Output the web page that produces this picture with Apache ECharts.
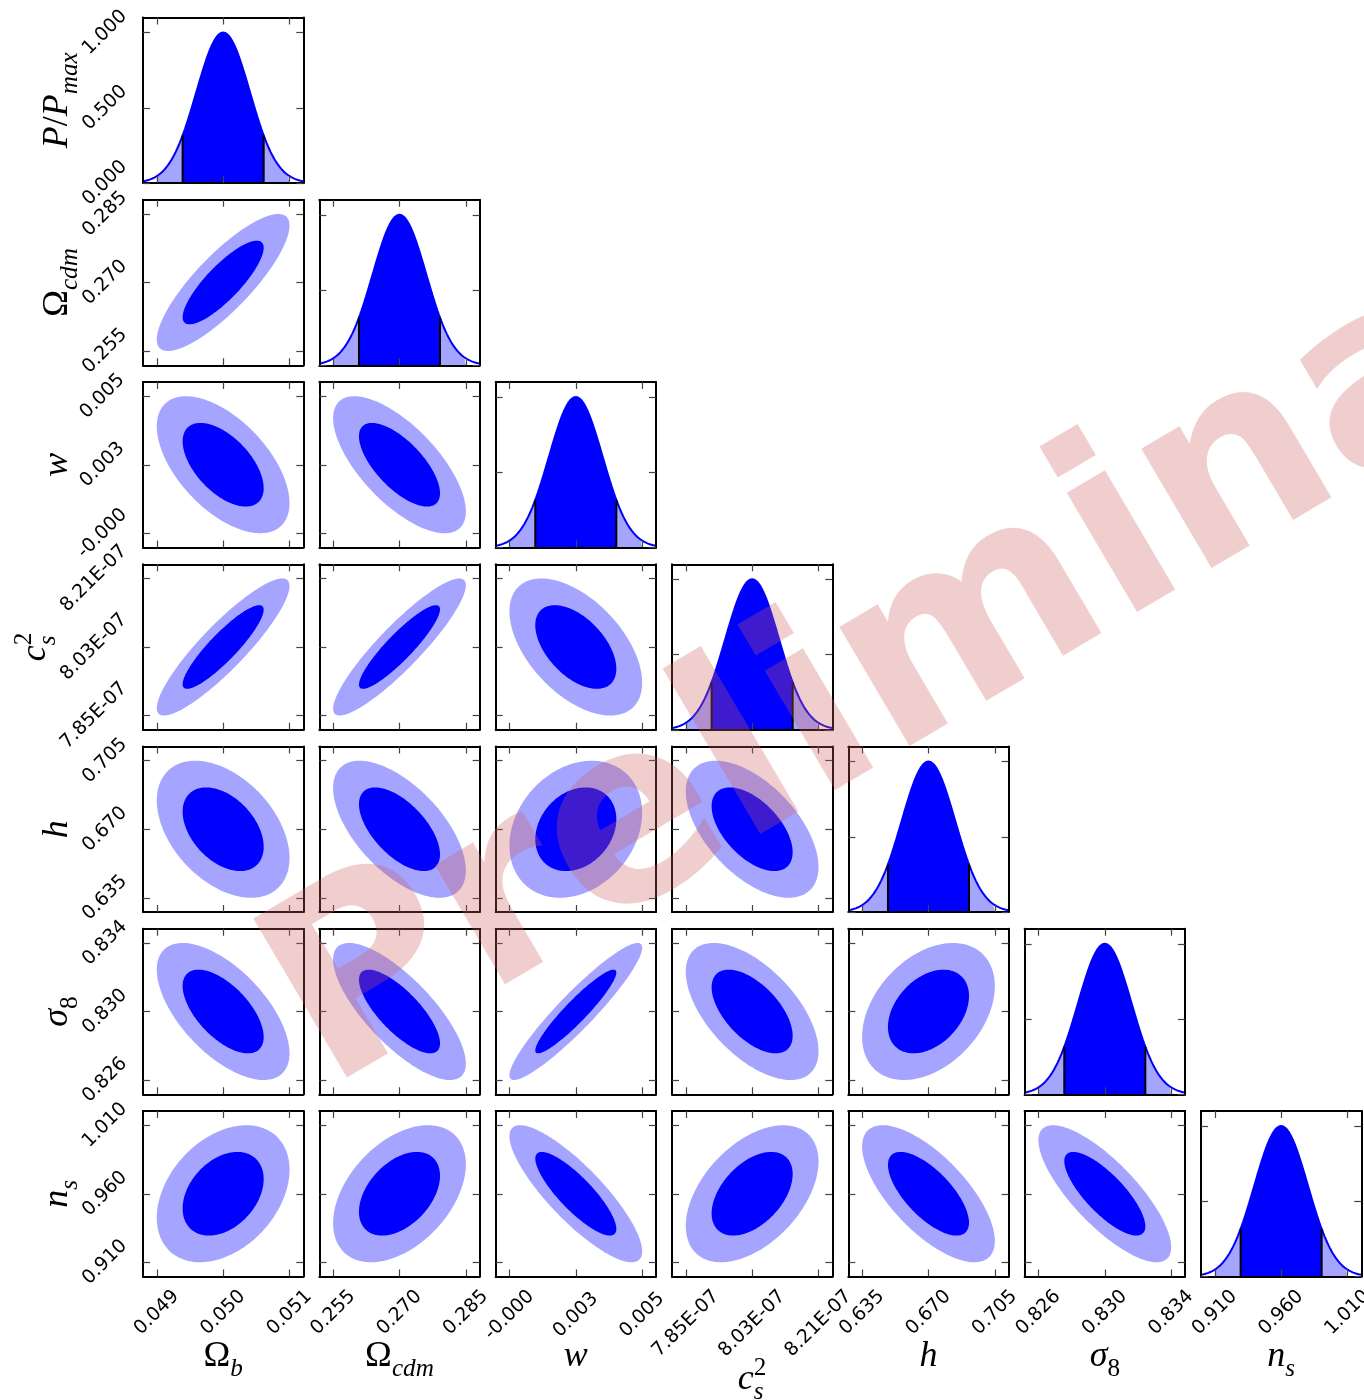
<!DOCTYPE html>
<html>
<head>
<meta charset="utf-8">
<title>Fisher forecast triangle plot</title>
<script src="https://cdn.jsdelivr.net/npm/echarts@6/dist/echarts.min.js"></script>
<style>
  html, body { margin: 0; padding: 0; background: #ffffff; }
  #chart { width: 1364px; height: 1400px; }
</style>
</head>
<body>
<div id="chart"></div>
<script>
// ---- Forecast parameters: fiducial values and marginalised 1-sigma errors ----
const paramNames = ['Omega_b', 'Omega_cdm', 'w', 'c_s^2', 'h', 'sigma_8', 'n_s'];
const fiducial = [0.0500, 0.2700, 0.0025, 8.03e-7, 0.670, 0.830, 0.960];
const sigma    = [0.000403, 0.00605, 0.00109, 7.26e-9, 0.01411, 0.001613, 0.02016];

// Correlation coefficients, lower triangle: corrRowI[j] = rho(param I, param j)
const corrRow1 = [0.83];
const corrRow2 = [-0.56, -0.68];
const corrRow3 = [0.89, 0.90, -0.52];
const corrRow4 = [-0.42, -0.60, 0.24, -0.55];
const corrRow5 = [-0.61, -0.76, 0.93, -0.58, 0.37];
const corrRow6 = [0.35, 0.43, -0.84, 0.47, -0.69, -0.78];

// Tick labels (lower contour edge, fiducial, upper contour edge)
const tickLabelsOmegaB   = ['0.049', '0.050', '0.051'];
const tickLabelsOmegaCdm = ['0.255', '0.270', '0.285'];
const tickLabelsW        = ['-0.000', '0.003', '0.005'];
const tickLabelsCs2      = ['7.85E-07', '8.03E-07', '8.21E-07'];
const tickLabelsH        = ['0.635', '0.670', '0.705'];
const tickLabelsSigma8   = ['0.826', '0.830', '0.834'];
const tickLabelsNs       = ['0.910', '0.960', '1.010'];

// Normalised 1D posterior axis
const probTicks = [0, 0.5, 1.0];
const probTickLabels = ['0.000', '0.500', '1.000'];

// Contour levels: delta chi^2 for 68.3% and 95.4% in two dimensions
const deltaChi2 = [2.30, 6.17];

const watermarkText = 'Preliminary';

// ---- Derived tables ----
const tickLabels = [tickLabelsOmegaB, tickLabelsOmegaCdm, tickLabelsW, tickLabelsCs2,
                    tickLabelsH, tickLabelsSigma8, tickLabelsNs];
const corr = [[], corrRow1, corrRow2, corrRow3, corrRow4, corrRow5, corrRow6];
const N = fiducial.length;
const R1 = Math.sqrt(deltaChi2[0]);
const R2 = Math.sqrt(deltaChi2[1]);
const SPAN = 3; // each axis covers fiducial +/- 3 sigma

// ---- Styling ----
const DARK = '#0000ff';
const LIGHT = '#a5a5ff';
const TICK_FAMILY = '"DejaVu Sans"';
const TICK_SIZE = 19;
const TITLE_FAMILY = '"Liberation Serif", "DejaVu Serif", serif';
const TITLE_SIZE = 36;

const L = { left: 143, top: 17.5, w: 160.3, h: 165.5, dx: 176.33, dy: 182.25 };

const measureCtx = document.createElement('canvas').getContext('2d');
function textWidth(text, font) {
  measureCtx.font = font;
  return measureCtx.measureText(text).width;
}
function rotatedBox(text) {
  const w = textWidth(text, TICK_SIZE + 'px ' + TICK_FAMILY);
  return (w + 0.73 * TICK_SIZE) * Math.SQRT1_2;
}
function xLabelMargin(labels) {
  return 12 + Math.max(...labels.map(rotatedBox)) / 2;
}
function yLabelMargin(labels) {
  return 14 + Math.max(...labels.map(rotatedBox)) / 2;
}

function rho(i, j) { return i > j ? corr[i][j] : corr[j][i]; }
function paramTicks(k) {
  return [fiducial[k] - R2 * sigma[k], fiducial[k], fiducial[k] + R2 * sigma[k]];
}

const axisLineStyle = { show: true, onZero: false, lineStyle: { color: '#000', width: 2 } };
const tickLineStyle = { color: '#444', width: 1.2 };

function labelStyle(show, margin) {
  return {
    show: show, rotate: 45, align: 'center', verticalAlign: 'middle', margin: margin,
    padding: [8, 0, 0, 0],
    fontFamily: TICK_FAMILY, fontSize: TICK_SIZE, color: '#000'
  };
}

function paramAxis(k, gridIndex, position, showLabels, isX) {
  const ticks = paramTicks(k);
  const labels = tickLabels[k];
  const margin = isX ? xLabelMargin(labels) : yLabelMargin(labels);
  const lab = labelStyle(showLabels, margin);
  lab.customValues = ticks;
  lab.formatter = function (v) {
    const idx = Math.round((v - fiducial[k]) / (R2 * sigma[k])) + 1;
    return labels[Math.max(0, Math.min(2, idx))];
  };
  return {
    type: 'value', gridIndex: gridIndex, position: position, z: 10,
    min: fiducial[k] - SPAN * sigma[k], max: fiducial[k] + SPAN * sigma[k],
    axisLine: axisLineStyle,
    axisTick: { show: true, inside: true, length: 7, customValues: ticks, lineStyle: tickLineStyle },
    axisLabel: lab,
    splitLine: { show: false }, splitArea: { show: false }
  };
}

function probAxis(gridIndex, position, showLabels) {
  const lab = labelStyle(showLabels, yLabelMargin(probTickLabels));
  lab.customValues = probTicks;
  lab.formatter = function (v) {
    const idx = probTicks.findIndex(t => Math.abs(t - v) < 1e-9);
    return idx >= 0 ? probTickLabels[idx] : '';
  };
  return {
    type: 'value', gridIndex: gridIndex, position: position, z: 10,
    min: 0, max: 1.1,
    axisLine: axisLineStyle,
    axisTick: { show: true, inside: true, length: 7, customValues: probTicks, lineStyle: tickLineStyle },
    axisLabel: lab,
    splitLine: { show: false }, splitArea: { show: false }
  };
}

// Gaussian marginal between two limits given in units of sigma
function marginal(k, zFrom, zTo, n) {
  const pts = [];
  for (let t = 0; t <= n; t++) {
    const z = zFrom + (zTo - zFrom) * t / n;
    pts.push([fiducial[k] + z * sigma[k], Math.exp(-0.5 * z * z)]);
  }
  return pts;
}

// Confidence ellipse of (param jx, param iy) at radius r
function ellipse(iy, jx, r, n) {
  const p = rho(iy, jx), q = Math.sqrt(1 - p * p);
  const pts = [];
  for (let t = 0; t < n; t++) {
    const a = 2 * Math.PI * t / n, c = Math.cos(a), s = Math.sin(a);
    pts.push([fiducial[jx] + r * sigma[jx] * c,
              fiducial[iy] + r * sigma[iy] * (p * c + q * s)]);
  }
  return pts;
}

function polygonSeries(pts, color, xi, yi, z) {
  return {
    type: 'custom', xAxisIndex: xi, yAxisIndex: yi, data: pts, z: z, silent: true,
    renderItem: function (params, api) {
      if (params.dataIndex !== 0) return { type: 'group', children: [] };
      return { type: 'polygon', shape: { points: pts.map(p => api.coord(p)) }, style: { fill: color } };
    }
  };
}

const grids = [], xAxes = [], yAxes = [], series = [];

for (let i = 0; i < N; i++) {
  for (let j = 0; j <= i; j++) {
    const gi = grids.length;
    grids.push({
      left: L.left + j * L.dx, top: L.top + i * L.dy, width: L.w, height: L.h,
      containLabel: false, outerBoundsMode: 'none', show: false
    });
    const xi = xAxes.length;
    xAxes.push(paramAxis(j, gi, 'bottom', i === N - 1, true));
    xAxes.push(paramAxis(j, gi, 'top', false, true));
    const yi = yAxes.length;
    if (i === j) {
      yAxes.push(probAxis(gi, 'left', i === 0));
      yAxes.push(probAxis(gi, 'right', false));
      const common = { type: 'line', xAxisIndex: xi, yAxisIndex: yi, showSymbol: false, symbol: 'none', silent: true };
      series.push(Object.assign({}, common, {
        data: marginal(i, -R2, R2, 160), z: 2,
        lineStyle: { opacity: 0 }, areaStyle: { color: LIGHT, opacity: 1 }
      }));
      series.push(Object.assign({}, common, {
        data: marginal(i, -R1, R1, 120), z: 3,
        lineStyle: { opacity: 0 }, areaStyle: { color: DARK, opacity: 1 }
      }));
      series.push(Object.assign({}, common, {
        data: marginal(i, -SPAN, SPAN, 240), z: 4,
        lineStyle: { color: DARK, width: 2 }
      }));
      series.push({
        type: 'custom', xAxisIndex: xi, yAxisIndex: yi, silent: true, z: 5,
        data: [marginal(i, -R1, -R1, 1)[0], marginal(i, R1, R1, 1)[0]],
        renderItem: function (params, api) {
          const p0 = api.coord([api.value(0), 0]);
          const p1 = api.coord([api.value(0), api.value(1)]);
          return { type: 'line', shape: { x1: p0[0], y1: p0[1], x2: p1[0], y2: p1[1] },
                   style: { stroke: '#000', lineWidth: 2 } };
        }
      });
    } else {
      yAxes.push(paramAxis(i, gi, 'left', j === 0, false));
      yAxes.push(paramAxis(i, gi, 'right', false, false));
      series.push(polygonSeries(ellipse(i, j, R2, 180), LIGHT, xi, yi, 2));
      series.push(polygonSeries(ellipse(i, j, R1, 180), DARK, xi, yi, 3));
    }
  }
}

// ---- Axis titles typeset from pieces (italic symbols, sub/superscripts) ----
const titlePieces = [
  [{ t: 'Ω' }, { t: 'b', it: 1, sub: 1 }],
  [{ t: 'Ω' }, { t: 'cdm', it: 1, sub: 1 }],
  [{ t: 'w', it: 1 }],
  [{ t: 'c', it: 1 }, { t: '2', sup: 1, stack: 1 }, { t: 's', it: 1, sub: 1 }],
  [{ t: 'h', it: 1 }],
  [{ t: 'σ', it: 1 }, { t: '8', sub: 1 }],
  [{ t: 'n', it: 1 }, { t: 's', it: 1, sub: 1 }]
];
const probTitlePieces = [{ t: 'P', it: 1 }, { t: '/' }, { t: 'P', it: 1 }, { t: 'max', it: 1, sub: 1 }];

function mathTitle(pieces, S) {
  const kids = [];
  let x = 0, pending = 0;
  pieces.forEach(p => {
    const size = (p.sub || p.sup) ? S * 0.7 : S;
    const style = p.it ? 'italic' : 'normal';
    const w = textWidth(p.t, style + ' ' + size + 'px ' + TITLE_FAMILY);
    const dy = p.sub ? S * 0.24 : (p.sup ? -S * 0.42 : 0);
    kids.push({
      type: 'text', x: x, y: dy - 0.3375 * size,
      style: {
        text: p.t, fontSize: size, fontFamily: TITLE_FAMILY, fontStyle: style,
        fill: '#000', align: 'left', verticalAlign: 'middle',
        textAlign: 'left', textVerticalAlign: 'middle'
      }
    });
    if (p.stack) { pending = w; } else { x += Math.max(w, pending); pending = 0; }
  });
  return { kids: kids, width: x };
}

const graphics = [];
for (let k = 0; k < N; k++) {
  const m = mathTitle(titlePieces[k], TITLE_SIZE);
  const cx = L.left + k * L.dx + L.w / 2;
  const base = k === 3 ? 1392 : 1369;
  graphics.push({ type: 'group', x: cx - m.width / 2, y: base, children: m.kids, silent: true });
}
for (let i = 0; i < N; i++) {
  const m = mathTitle(i === 0 ? probTitlePieces : titlePieces[i], TITLE_SIZE);
  const cy = L.top + i * L.dy + L.h / 2;
  const baseX = i === 3 ? 48 : 70;
  graphics.push({ type: 'group', x: baseX, y: cy + m.width / 2, rotation: Math.PI / 2,
                  children: m.kids, silent: true });
}

// ---- Watermark ----
const WM_SIZE = 253;
const WM_ANGLE = 30.5 * Math.PI / 180;
const wmBaseline = [338, 1108];
const wmMid = 0.346 * WM_SIZE;
graphics.push({
  type: 'text', silent: true, z: 100,
  x: wmBaseline[0] - wmMid * Math.sin(WM_ANGLE),
  y: wmBaseline[1] - wmMid * Math.cos(WM_ANGLE),
  rotation: WM_ANGLE,
  style: {
    text: watermarkText, fontSize: WM_SIZE, fontFamily: '"DejaVu Sans"', fontWeight: 'bold',
    fill: 'rgba(205, 92, 92, 0.3)', align: 'left', verticalAlign: 'middle',
    textAlign: 'left', textVerticalAlign: 'middle'
  }
});

const chart = echarts.init(document.getElementById('chart'), null, { renderer: 'canvas', width: 1364, height: 1400 });
chart.setOption({
  animation: false,
  backgroundColor: '#ffffff',
  grid: grids,
  xAxis: xAxes,
  yAxis: yAxes,
  series: series,
  graphic: { elements: graphics }
});
</script>
</body>
</html>
